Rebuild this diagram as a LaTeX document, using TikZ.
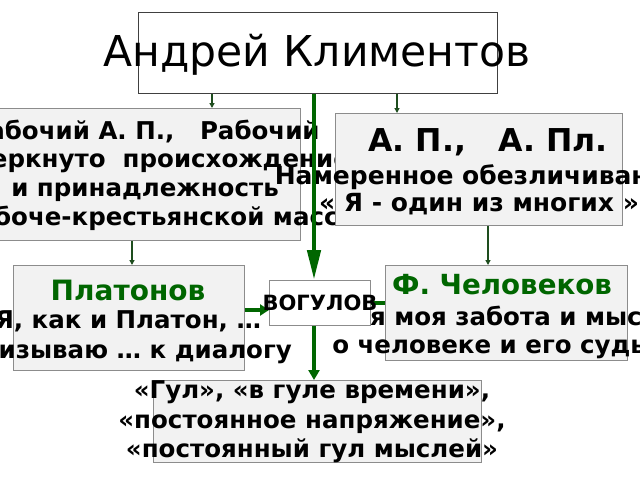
\documentclass[tikz,border=0pt]{standalone}
\usepackage{fontspec}
\setmainfont{DejaVu Sans}
\usetikzlibrary{arrows.meta}
\definecolor{boxgray}{HTML}{F2F2F2}
\definecolor{edgegray}{HTML}{8C8C8C}
\definecolor{dgreen}{HTML}{006600}
\definecolor{tgreen}{HTML}{1E4D1E}
\begin{document}
\begin{tikzpicture}[x=1pt,y=-1pt,
  panel/.style={draw=edgegray, fill=boxgray, line width=0.9pt, inner sep=0pt, anchor=north west},
  wbox/.style={draw=edgegray, fill=white, line width=0.9pt, inner sep=0pt, anchor=north west},
  txt/.style={font=\bfseries\fontsize{24.5}{28.7}\selectfont, align=center, inner sep=0pt},
  gtitle/.style={font=\bfseries\fontsize{28}{32}\selectfont, text=dgreen, inner sep=0pt},
  thin/.style={draw=tgreen, line width=1.6pt, -{Triangle[length=5pt,width=5pt]}},
  thick/.style={draw=dgreen, line width=4.5pt},
]
\useasboundingbox (0,0) rectangle (640,480);
\fill[white] (0,0) rectangle (640,480);

% title
\node[wbox, draw=black!75, line width=1.3pt, minimum width=359pt, minimum height=81pt] (title) at (138,12) {};
\node[font=\fontsize{42.5}{50}\selectfont, inner sep=0pt] (titletxt) at (317,55) {Андрей Климентов};

% left box
\node[panel, minimum width=302pt, minimum height=132pt] (worker) at (-2,108) {};
\node[txt] (workertxt) at (145,175) {Рабочий А. П.,\ \ \ Рабочий\\Зачеркнуто\ \ происхождение\\и принадлежность\\к рабоче-крестьянской массе};

% right box
\node[panel, minimum width=287pt, minimum height=112pt] (ap) at (335,113) {};
\node[font=\bfseries\fontsize{31.5}{36}\selectfont, inner sep=0pt] (aptitle) at (488,142) {А. П.,\ \ \ А. Пл.};
\node[txt, font=\bfseries\fontsize{25}{27}\selectfont] (aptxt) at (479,190) {Намеренное обезличивание\\« Я - один из многих »};

% Platonov
\node[panel, minimum width=231pt, minimum height=105pt] (plat) at (13,265) {};
\node[gtitle] (plattitle) at (128,290) {Платонов};
\node[txt, font=\bfseries\fontsize{24.5}{30}\selectfont] (plattxt) at (128,337) {Я, как и Платон, …\\призываю … к диалогу};

% Chelovekov
\node[panel, minimum width=242pt, minimum height=95pt] (chel) at (385,265) {};
\node[gtitle, font=\bfseries\fontsize{27.7}{32}\selectfont] (cheltitle) at (502,285) {Ф. Человеков};
\node[txt, font=\bfseries\fontsize{24.5}{28}\selectfont] (cheltxt) at (506,332) {Вся моя забота и мысль\\о человеке и его судьбе};

% Vogulov
\node[wbox, minimum width=101pt, minimum height=45pt] (vog) at (269,280) {};

% bottom box
\node[panel, minimum width=328pt, minimum height=82pt] (gul) at (153,380) {};

% connectors
\draw[thin] (title.south -| 212,0) -- (worker.north -| 212,0);
\draw[thin] (title.south -| 397,0) -- (ap.north -| 397,0);
\draw[thin] (worker.south -| 132,0) -- (plat.north -| 132,0);
\draw[thin] (ap.south -| 488,0) -- (chel.north -| 488,0);
\draw[thick, -{Triangle[length=30pt,width=13pt]}] (title.south -| 314,0) -- (vog.north -| 314,0);
\draw[thick, -{Triangle[length=9pt,width=11pt]}] (plat.east |- 0,310) -- (vog.west |- 0,310);
\draw[thick] (vog.east |- 0,303) -- (chel.west |- 0,303);
\draw[thick, -{Triangle[length=10pt,width=11pt]}] (vog.south -| 314,0) -- (gul.north -| 314,0);

\node[font=\bfseries\fontsize{21}{24}\selectfont, inner sep=0pt] (vogtxt) at (320,303) {ВОГУЛОВ};
\node[txt, font=\bfseries\fontsize{24.5}{29.5}\selectfont] (gultxt) at (312,422) {«Гул», «в гуле времени»,\\«постоянное напряжение»,\\«постоянный гул мыслей»};
\end{tikzpicture}
\end{document}
